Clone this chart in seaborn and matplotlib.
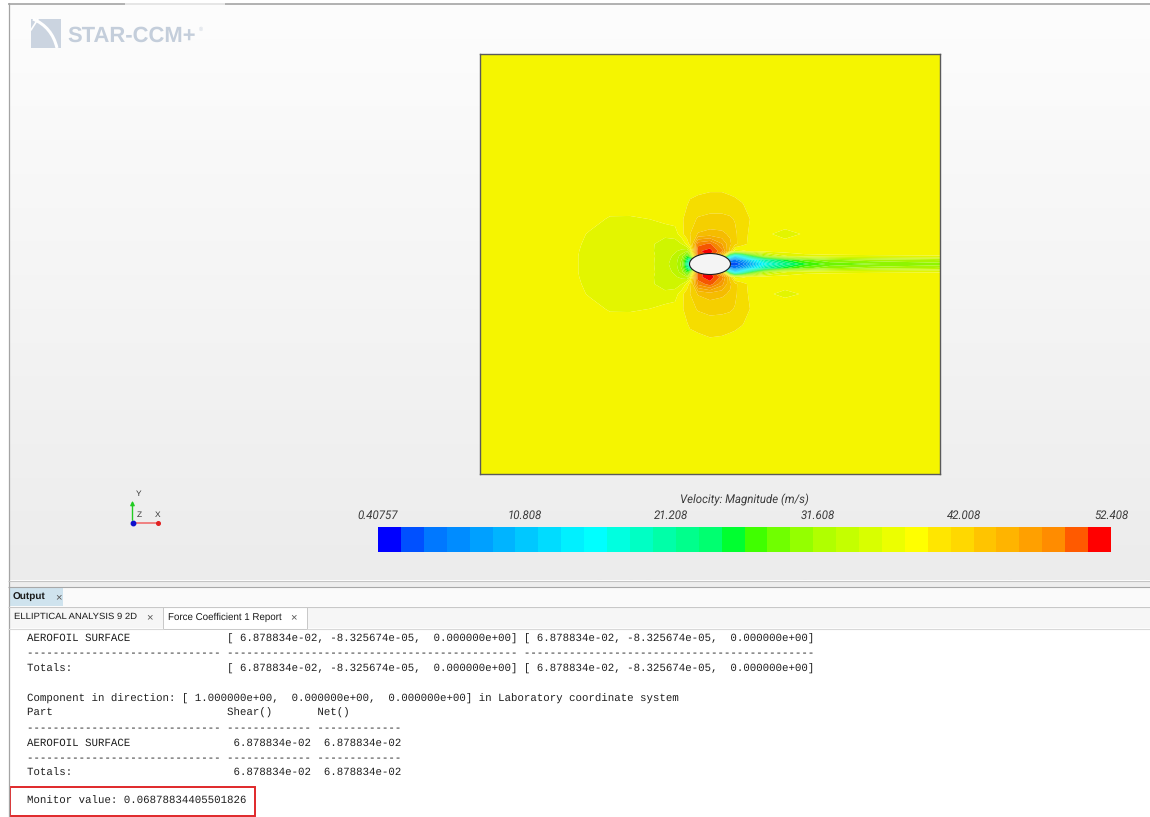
"""
    STAR-CCM+ scene: velocity magnitude around an elliptical section,
    with the force coefficient report underneath.
"""

import numpy as np
import matplotlib
matplotlib.use("Agg")
import matplotlib.pyplot as plt
from matplotlib.colors import ListedColormap, LinearSegmentedColormap, to_rgb
from matplotlib.patches import Ellipse, Rectangle, PathPatch
from matplotlib.path import Path
import seaborn as sns

W, H = 1150, 817

# Scalar bar (velocity magnitude, m/s).
v_min, v_max = 0.40757, 52.408
tick_labels = ["0.40757", "10.808", "21.208", "31.608", "42.008", "52.408"]
bin_colors = ["#0000ff", "#0050ff", "#0078ff", "#008cff", "#00a0ff", "#00b4ff",
              "#00c8ff", "#00dcff", "#00f0ff", "#00ffff", "#00ffe0", "#00ffc4",
              "#00ffa8", "#00ff8c", "#00ff70", "#00ff30", "#40ff00", "#70ff00",
              "#94ff00", "#b0ff00", "#c4ff00", "#d8ff00", "#ecff00", "#ffff00",
              "#ffe600", "#ffd800", "#ffc400", "#ffb400", "#ffa000", "#ff8c00",
              "#ff5a00", "#ff0000"]

# Velocity magnitude (rows top to bottom).
grid_x = [-23, -14, -12, -10, -8, -6, -4.5, -3.5, -2.8, -2.3, -2.0, -1.2,
          0, 1.2, 2.0, 2.5, 3.2, 4.2, 5.5, 7.5, 9.5, 12, 16, 23]
grid_y = [21, 10, 7.5, 6, 4.5, 3, 2, 1.3, 0.8, 0.4, 0, -0.4, -0.8, -1.3, -2,
          -3, -4.5, -6, -7.5, -10, -21]
speed = [
    [38.6, 38.6, 38.6, 38.6, 38.6, 38.6, 38.6, 38.6, 38.6, 38.6, 38.6, 38.6, 38.6, 38.6, 38.6, 38.6, 38.6, 38.6, 38.6, 38.6, 38.6, 38.6, 38.6, 38.6],
    [38.6, 38.6, 38.6, 38.6, 38.6, 38.6, 38.6, 38.6, 38.6, 38.6, 38.6, 38.6, 38.6, 38.6, 38.6, 38.6, 38.6, 38.6, 38.6, 38.6, 38.6, 38.6, 38.6, 38.6],
    [38.6, 38.6, 38.6, 38.6, 38.6, 38.6, 38.6, 38.6, 38.6, 38.6, 38.8, 39.0, 39.2, 39.2, 39.0, 38.8, 38.6, 38.6, 38.6, 38.6, 38.6, 38.6, 38.6, 38.6],
    [38.6, 38.6, 38.6, 38.6, 38.5, 38.6, 38.6, 38.6, 38.8, 39.3, 39.7, 40.0, 40.2, 40.2, 40.0, 39.9, 39.5, 38.8, 38.6, 38.6, 38.6, 38.6, 38.6, 38.6],
    [38.6, 38.6, 38.4, 37.6, 37.6, 37.8, 38.4, 38.6, 39.2, 40.0, 40.4, 41.2, 41.5, 41.5, 41.3, 40.9, 40.2, 39.2, 38.6, 38.6, 38.6, 38.6, 38.6, 38.6],
    [38.6, 38.5, 37.6, 37.2, 37.0, 37.0, 36.5, 36.9, 39.0, 40.3, 41.0, 42.8, 43.2, 43.0, 42.4, 41.4, 40.0, 39.0, 38.0, 37.4, 37.9, 38.6, 38.6, 38.6],
    [38.6, 38.3, 37.4, 37.0, 36.9, 36.4, 35.6, 35.4, 36.2, 38.4, 40.0, 48.5, 49.5, 46.0, 43.0, 41.5, 40.0, 38.8, 38.4, 38.2, 38.4, 38.6, 38.6, 38.6],
    [38.6, 38.2, 37.3, 37.0, 36.9, 36.5, 35.2, 34.8, 34.0, 33.0, 36.0, 50.5, 51.5, 48.0, 42.0, 37.0, 37.5, 38.2, 38.5, 38.6, 38.6, 38.6, 38.6, 38.6],
    [38.6, 38.2, 37.2, 37.0, 36.9, 36.6, 35.3, 34.2, 32.0, 27.0, 30.0, 50.0, 51.0, 42.0, 20.0, 14.0, 18.0, 26.0, 32.0, 36.0, 37.3, 37.5, 37.6, 37.7],
    [38.6, 38.2, 37.2, 37.0, 36.9, 36.6, 35.1, 34.0, 31.0, 24.0, 20.0, 35.0, 35.0, 20.0, 6.0, 5.0, 8.0, 14.0, 21.0, 26.0, 29.0, 31.0, 32.0, 33.0],
    [38.6, 38.2, 37.2, 37.0, 36.9, 36.6, 35.0, 33.8, 30.5, 22.0, 14.0, 20.0, 20.0, 5.0, 2.0, 2.5, 4.0, 9.0, 16.0, 22.0, 26.0, 28.5, 29.5, 30.5],
    [38.6, 38.2, 37.2, 37.0, 36.9, 36.6, 35.1, 34.0, 31.0, 24.0, 20.0, 35.0, 35.0, 20.0, 6.0, 5.0, 8.0, 14.0, 21.0, 26.0, 29.0, 31.0, 32.0, 33.0],
    [38.6, 38.2, 37.2, 37.0, 36.9, 36.6, 35.3, 34.2, 32.0, 27.0, 30.0, 50.5, 51.2, 42.0, 20.0, 14.0, 18.0, 26.0, 32.0, 36.0, 37.3, 37.5, 37.6, 37.7],
    [38.6, 38.2, 37.3, 37.0, 36.9, 36.5, 35.2, 34.8, 34.0, 33.0, 36.5, 50.2, 51.8, 48.5, 42.0, 37.0, 37.5, 38.2, 38.5, 38.6, 38.6, 38.6, 38.6, 38.6],
    [38.6, 38.3, 37.4, 37.0, 36.9, 36.4, 35.6, 35.4, 36.2, 38.4, 40.0, 48.0, 50.0, 46.5, 43.0, 41.5, 40.0, 38.8, 38.4, 38.2, 38.4, 38.6, 38.6, 38.6],
    [38.6, 38.5, 37.6, 37.2, 37.0, 37.0, 36.5, 36.9, 39.0, 40.3, 41.0, 42.8, 43.4, 43.0, 42.4, 41.4, 40.0, 39.0, 38.0, 37.5, 37.9, 38.6, 38.6, 38.6],
    [38.6, 38.6, 38.4, 37.6, 37.6, 37.8, 38.4, 38.6, 39.2, 40.0, 40.4, 41.2, 41.6, 41.5, 41.3, 40.9, 40.2, 39.2, 38.6, 38.6, 38.6, 38.6, 38.6, 38.6],
    [38.6, 38.6, 38.6, 38.6, 38.5, 38.6, 38.6, 38.6, 38.8, 39.3, 39.7, 40.0, 40.3, 40.2, 40.0, 39.9, 39.5, 38.8, 38.6, 38.6, 38.6, 38.6, 38.6, 38.6],
    [38.6, 38.6, 38.6, 38.6, 38.6, 38.6, 38.6, 38.6, 38.6, 38.6, 38.8, 39.0, 39.3, 39.2, 39.0, 38.8, 38.6, 38.6, 38.6, 38.6, 38.6, 38.6, 38.6, 38.6],
    [38.6, 38.6, 38.6, 38.6, 38.6, 38.6, 38.6, 38.6, 38.6, 38.6, 38.6, 38.6, 38.6, 38.6, 38.6, 38.6, 38.6, 38.6, 38.6, 38.6, 38.6, 38.6, 38.6, 38.6],
    [38.6, 38.6, 38.6, 38.6, 38.6, 38.6, 38.6, 38.6, 38.6, 38.6, 38.6, 38.6, 38.6, 38.6, 38.6, 38.6, 38.6, 38.6, 38.6, 38.6, 38.6, 38.6, 38.6, 38.6],
]
ell_w, ell_h = 4.1, 2.1

# Report values.
force_vec = [6.878834e-02, -8.325674e-05, 0.0]
direction = [1.0, 0.0, 0.0]
shear_x = 6.878834e-02
net_x = 6.878834e-02
monitor_value = "0.06878834405501826"

sns.set_style("white")
plt.rcParams['font.family'] = ['Liberation Sans', 'DejaVu Sans']
plt.rcParams['text.hinting'] = 'no_hinting'

fig = plt.figure(figsize = (11.5, 8.17), dpi = 100)
fig.patch.set_facecolor('white')


def px_axes(x0, y0, x1, y1, z):
    return fig.add_axes([x0 / W, 1 - y1 / H, (x1 - x0) / W, (y1 - y0) / H], zorder = z)


def hline(ax, y, x0, x1, color, lw = 0.8):
    ax.plot([x0, x1], [y, y], color = color, lw = lw, solid_capstyle = 'butt')


# Window chrome, drawn in pixel coordinates.
bg = px_axes(0, 0, W, H, 0)
grad = LinearSegmentedColormap.from_list('panel', ['#fdfdfd', '#ececec'])
bg.imshow(np.linspace(0, 1, 256).reshape(-1, 1), cmap = grad, aspect = 'auto',
          extent = (8.5, W, 580, 4), zorder = 0)
hline(bg, 3.5, 8, 125, '#a4a4a4', 1.2)
hline(bg, 3.5, 125, 225, '#e2e2e2', 1.2)
hline(bg, 3.5, 225, W, '#a4a4a4', 1.2)
bg.plot([8.5, 8.5], [3, 817], color = '#a4a4a4', lw = 0.9)
hline(bg, 580.5, 8, W, '#c4c4c4')
bg.add_patch(Rectangle((9, 581), W, 6, fc = '#eeeeee', ec = 'none'))
hline(bg, 587, 8, W, '#a8a8a8')
bg.add_patch(Rectangle((9, 588), W, 18, fc = '#fafafa', ec = 'none'))
bg.add_patch(Rectangle((9, 588), 54, 18, fc = '#cfe3ee', ec = 'none'))
bg.text(13, 597, 'Output', fontsize = 7.2, fontweight = 'bold', va = 'center', color = '#1a1a1a')
bg.text(55, 597, '×', fontsize = 8, va = 'center', color = '#555555')
hline(bg, 606.5, 8, W, '#c8c8c8')
bg.add_patch(Rectangle((9, 607), W, 21, fc = '#f6f6f6', ec = 'none'))
bg.add_patch(Rectangle((163, 607), 144, 22, fc = 'white', ec = '#c8c8c8', lw = 0.7))
bg.text(14, 617, 'ELLIPTICAL ANALYSIS 9 2D', fontsize = 6.8, va = 'center', color = '#1a1a1a')
bg.text(146, 617, '×', fontsize = 8, va = 'center', color = '#555555')
bg.text(168, 617, 'Force Coefficient 1 Report', fontsize = 7.0, va = 'center', color = '#1a1a1a')
bg.text(290, 617, '×', fontsize = 8, va = 'center', color = '#555555')
hline(bg, 628.5, 8, 163, '#d8d8d8')
hline(bg, 628.5, 307, W, '#d8d8d8')

# STAR-CCM+ logo.
bg.add_patch(Rectangle((31, 19), 30, 29, fc = '#cbd4e0', ec = 'none'))
swoosh = Path([(33, 19), (52, 27), (57, 48)], [Path.MOVETO, Path.CURVE3, Path.CURVE3])
bg.add_patch(PathPatch(swoosh, fc = 'none', ec = 'white', lw = 2.2))
bg.plot([31, 38], [30, 19], color = 'white', lw = 1.2)
bg.text(67, 36, 'STAR-CCM+', fontsize = 15.8, fontweight = 'bold', va = 'center',
        color = '#c4cedb')
bg.text(199, 29, '®', fontsize = 4, va = 'center', color = '#c4cedb')

# Axis triad.
bg.annotate('', xy = (132.5, 498), xytext = (132.5, 523),
            arrowprops = dict(arrowstyle = '-|>', color = '#22cc22', lw = 1.0, mutation_scale = 6))
bg.plot([133, 158], [523, 523], color = '#f07878', lw = 1.3)
bg.plot([158], [523], 'o', ms = 2.6, color = '#e02020')
bg.plot([132.5], [523], 'o', ms = 3.2, color = '#1010cc')
bg.text(139, 494, 'Y', fontsize = 6, ha = 'center', va = 'center', color = '#333333')
bg.text(139, 515, 'Z', fontsize = 6, ha = 'center', va = 'center', color = '#333333')
bg.text(158, 515, 'X', fontsize = 6, ha = 'center', va = 'center', color = '#333333')

# Report text (fixed width).
def vec(v):
    return '[' + ', '.join(f'{c:13.6e}' for c in v) + ']'


dash1 = '-' * 30 + ' ' + '-' * 45 + ' ' + '-' * 45
dash2 = '-' * 30 + ' ' + '-' * 13 + ' ' + '-' * 13
report = [
    (639, f"{'AEROFOIL SURFACE':<30} {vec(force_vec)} {vec(force_vec)}"),
    (653, dash1),
    (669, f"{'Totals:':<30} {vec(force_vec)} {vec(force_vec)}"),
    (699, f"Component in direction: {vec(direction)} in Laboratory coordinate system"),
    (713, f"{'Part':<30} {'Shear()':<13} Net()"),
    (728, dash2),
    (743, f"{'AEROFOIL SURFACE':<30} {shear_x:13.6e} {net_x:13.6e}"),
    (758, dash2),
    (773, f"{'Totals:':<30} {shear_x:13.6e} {net_x:13.6e}"),
    (801, f"Monitor value: {monitor_value}"),
]
for y, line in report:
    bg.text(27, y, line, fontsize = 7.72, family = ['Liberation Mono', 'DejaVu Sans Mono'],
            va = 'center', color = '#1e1e1e')
bg.add_patch(Rectangle((10, 787), 245, 29, fill = False, ec = '#e0282a', lw = 1.4))

bg.set_xlim(0, W)
bg.set_ylim(H, 0)
bg.axis('off')

# Scene: velocity magnitude contours.
edges = np.linspace(v_min, v_max, len(bin_colors) + 1)
scene_cmap = ListedColormap([tuple(0.96 * c for c in to_rgb(h)) for h in bin_colors])
bar_cmap = ListedColormap(bin_colors)

field = px_axes(480, 54, 940, 474, 2)
field.contourf(grid_x, grid_y[::-1], np.array(speed)[::-1], levels = edges,
               cmap = scene_cmap, vmin = v_min, vmax = v_max, antialiased = True)
field.add_patch(Ellipse((0, 0), ell_w, ell_h, fc = '#f4f4f4', ec = '#1e1e1e', lw = 0.8, zorder = 3))
field.set_xlim(-23, 23)
field.set_ylim(-21, 21)
field.set_xticks([])
field.set_yticks([])
for s in field.spines.values():
    s.set_visible(True)
    s.set_color('#5a5a5a')
    s.set_linewidth(1.0)

# Scalar bar.
centers = (edges[:-1] + edges[1:]) / 2
cbar = px_axes(378, 527, 1111, 552, 2)
sns.heatmap(centers.reshape(1, -1), ax = cbar, cmap = bar_cmap, vmin = v_min, vmax = v_max,
            cbar = False, xticklabels = False, yticklabels = False, linewidths = 0)
for s in cbar.spines.values():
    s.set_visible(False)
for lab in tick_labels:
    frac = (float(lab) - v_min) / (v_max - v_min)
    cbar.text(frac, 1.44, lab, transform = cbar.transAxes, ha = 'center', va = 'center',
              fontsize = 8.3, style = 'italic', family = ['Roboto', 'DejaVu Sans'], color = '#3a3a3a')
cbar.text(0.5, 2.1, 'Velocity: Magnitude (m/s)', transform = cbar.transAxes, ha = 'center',
          va = 'center', fontsize = 8.3, style = 'italic', family = ['Roboto', 'DejaVu Sans'],
          color = '#3a3a3a')

fig.savefig('out.png', dpi = 100)
